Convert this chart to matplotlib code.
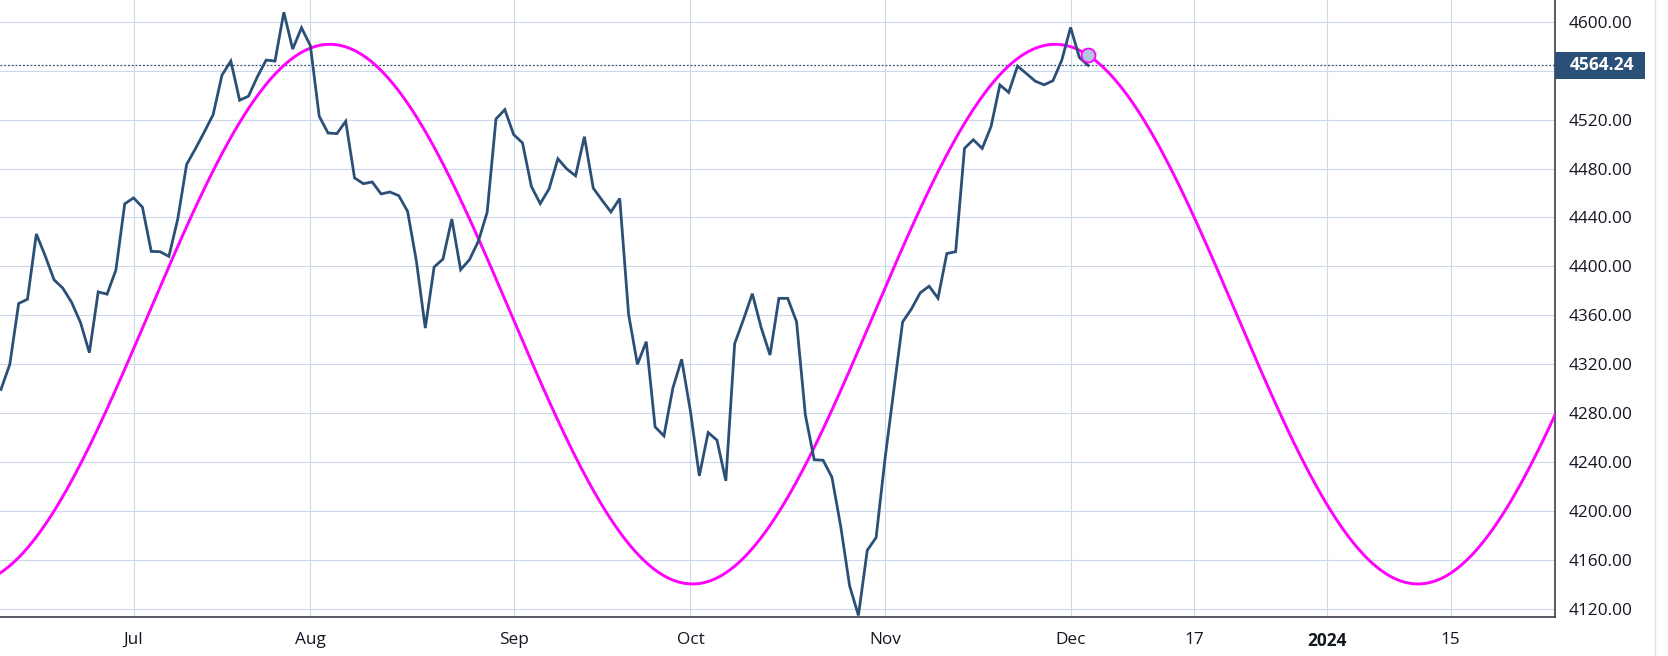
import numpy as np
import matplotlib.pyplot as plt
from matplotlib.lines import Line2D
from matplotlib.patches import Rectangle
from matplotlib.ticker import FuncFormatter
from matplotlib.transforms import blended_transform_factory

plt.rcParams['font.family'] = ['Open Sans', 'DejaVu Sans']

# daily closes, one per trading bar (bar 0 = mid June, bar 123 = Dec 5)
closes = [
    4299.5, 4320.0, 4369.7, 4373.2, 4426.5, 4408.7, 4389.1, 4382.2, 4370.5, 4354.1,
    4329.5, 4379.2, 4377.3, 4397.0, 4451.1, 4456.0, 4448.4, 4412.3, 4412.0, 4408.2,
    4438.8, 4483.3, 4496.2, 4509.8, 4524.0, 4556.3, 4567.8, 4535.8, 4539.1, 4554.9,
    4568.6, 4567.8, 4607.7, 4577.6, 4595.0, 4580.4, 4522.7, 4509.0, 4508.5, 4518.6,
    4472.3, 4467.6, 4469.0, 4459.2, 4460.8, 4457.8, 4445.0, 4404.1, 4349.6, 4399.5,
    4406.0, 4438.7, 4397.3, 4405.5, 4420.5, 4444.2, 4520.5, 4528.1, 4507.7, 4500.9,
    4465.4, 4451.3, 4463.3, 4488.0, 4479.7, 4474.0, 4506.0, 4464.0, 4454.0, 4444.5,
    4455.5, 4360.8, 4320.0, 4338.5, 4268.8, 4261.5, 4300.4, 4324.1, 4281.4, 4228.8,
    4264.2, 4258.0, 4224.8, 4336.9, 4356.7, 4377.7, 4349.9, 4327.6, 4373.9, 4373.9,
    4354.8, 4278.5, 4242.0, 4241.6, 4227.8, 4187.4, 4139.0, 4114.8, 4168.0, 4178.4,
    4242.3, 4298.8, 4354.6, 4365.3, 4378.5, 4383.8, 4374.0, 4410.5, 4412.0, 4496.5,
    4503.5, 4496.4, 4514.2, 4548.3, 4542.2, 4563.7, 4557.6, 4551.4, 4548.4, 4551.7,
    4568.4, 4595.3, 4570.6, 4564.24,
]
last_close = 4564.24

tick_bars = [15, 35, 58, 78, 100, 121, 135, 150, 164]
tick_labels = ['Jul', 'Aug', 'Sep', 'Oct', 'Nov', 'Dec', '17', '2024', '15']
price_ticks = [4120, 4160, 4200, 4240, 4280, 4320, 4360, 4400,
               4440, 4480, 4520, 4560, 4600]
hidden_tick = 4560  # sits under the last-price box

# cycle overlay: centre, half height, length and first crest (bars)
cycle_mid = 4361
cycle_amp = 220.5
cycle_len = 82.06
cycle_top = 37.2

line_col = '#2b5078'
wave_col = '#ff00ff'
text_col = '#131722'

fig = plt.figure(figsize=(16.68, 6.56), dpi=100)
ax = fig.add_axes([0, 39 / 656, 1555 / 1668, 617 / 656])

bars = np.arange(len(closes))
ax.plot(bars, closes, color=line_col, lw=2.0, zorder=4, solid_joinstyle='miter')

xs = np.linspace(-1, 177, 900)
wave = cycle_mid + cycle_amp * np.cos(2 * np.pi * (xs - cycle_top) / cycle_len)
ax.plot(xs, wave, color=wave_col, lw=2.1, zorder=3)

last_bar = bars[-1]
wave_last = cycle_mid + cycle_amp * np.cos(2 * np.pi * (last_bar - cycle_top) / cycle_len)
ax.plot([last_bar], [wave_last], 'o', ms=10, mfc='#b2c6df', mec=wave_col, mew=1.3, zorder=6)

ax.axhline(last_close, color=line_col, lw=0.9, ls=(0, (1.5, 1.5)), zorder=2)

ax.set_xlim(-0.11, 175.8)
ax.set_ylim(4113.5, 4617.7)

ax.set_xticks(tick_bars)
ax.set_xticklabels(tick_labels)
for lab in ax.get_xticklabels():
    if lab.get_text() == '2024':
        lab.set_fontweight('bold')
ax.set_yticks(price_ticks)
ax.yaxis.tick_right()
ax.yaxis.set_major_formatter(FuncFormatter(lambda v, p: '' if v == hidden_tick else '%.2f' % v))
ax.tick_params(axis='y', length=0, pad=9.5, labelsize=12.4, colors=text_col)
ax.tick_params(axis='x', length=0, pad=10.5, labelsize=12.4, colors=text_col)

ax.grid(True, color='#ccd9ea', lw=0.8)
ax.set_axisbelow(True)
for s in ['top', 'left']:
    ax.spines[s].set_visible(False)
for s in ['bottom', 'right']:
    ax.spines[s].set_color('#2a2e39')
    ax.spines[s].set_linewidth(1.1)

# last price box on the price scale
tr = blended_transform_factory(ax.transAxes, ax.transData)
box_h = 26.7 / 1.2244
ax.add_patch(Rectangle((1.0, last_close - box_h / 2), 90 / 1555, box_h, transform=tr,
                       facecolor=line_col, edgecolor='none', clip_on=False, zorder=10))
ax.text(1 + 47 / 1555, last_close, '%.2f' % last_close, transform=tr, ha='center',
        va='center', color='white', fontsize=12.6, fontweight='bold', zorder=11, clip_on=False)

fig.add_artist(Line2D([1655 / 1668] * 2, [0, 1], color='#e0e3eb', lw=1))

fig.savefig('out.png', dpi=100, facecolor='white')
